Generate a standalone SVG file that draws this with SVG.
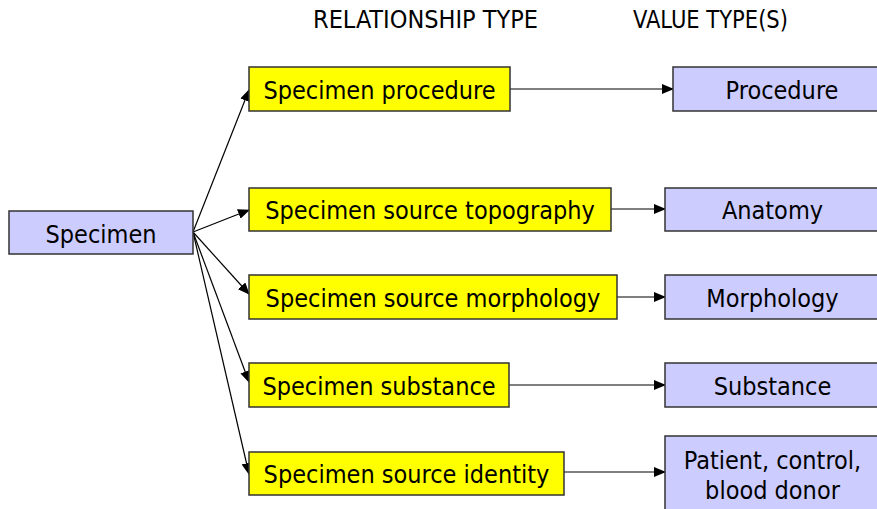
<svg xmlns="http://www.w3.org/2000/svg" width="877" height="509" viewBox="0 0 877 509">
<defs>
<style>
.t{font-family:"DejaVu Sans Condensed","DejaVu Sans",sans-serif;font-size:25px;fill:#000;text-anchor:middle}
.h{font-family:"DejaVu Sans Condensed","DejaVu Sans",sans-serif;font-size:25px;fill:#000}
.y{fill:#FFFF00;stroke:#333;stroke-width:1.5}
.b{fill:#CCCCFF;stroke:#333;stroke-width:1.5}
.c{stroke:#000;stroke-width:1.2;fill:none;marker-end:url(#ah)}
</style>
<marker id="ah" markerUnits="userSpaceOnUse" markerWidth="12" markerHeight="10" refX="11" refY="5" orient="auto">
<path d="M0,0 L12,5 L0,10 Z" fill="#000"/>
</marker>
</defs>
<rect width="877" height="509" fill="#fff"/>
<text class="h" x="313" y="28">RELATIONSHIP TYPE</text>
<text class="h" x="633" y="28" textLength="155" lengthAdjust="spacingAndGlyphs">VALUE TYPE(S)</text>
<g id="connectors">
<line class="c" x1="193" y1="232" x2="249" y2="90"/>
<line class="c" x1="193" y1="232" x2="249" y2="210"/>
<line class="c" x1="193" y1="232" x2="249" y2="294"/>
<line class="c" x1="193" y1="232" x2="249" y2="382"/>
<line class="c" x1="193" y1="232" x2="249" y2="474"/>
<line class="c" x1="510" y1="89" x2="673" y2="89"/>
<line class="c" x1="611" y1="209" x2="665" y2="209"/>
<line class="c" x1="617" y1="297" x2="665" y2="297"/>
<line class="c" x1="509" y1="385" x2="665" y2="385"/>
<line class="c" x1="564" y1="472" x2="665" y2="472"/>
</g>
<g id="specimen"><rect class="b" x="9" y="211" width="184" height="43"/><text class="t" x="101" y="243">Specimen</text></g>
<g id="rel-procedure"><rect class="y" x="249" y="67" width="261" height="44"/><text class="t" x="379.5" y="99">Specimen procedure</text></g>
<g id="rel-topography"><rect class="y" x="249" y="188" width="362" height="43"/><text class="t" x="430" y="219">Specimen source topography</text></g>
<g id="rel-morphology"><rect class="y" x="249" y="275" width="368" height="44"/><text class="t" x="433" y="307">Specimen source morphology</text></g>
<g id="rel-substance"><rect class="y" x="249" y="363" width="260" height="44"/><text class="t" x="379" y="395">Specimen substance</text></g>
<g id="rel-identity"><rect class="y" x="249" y="452" width="315" height="43"/><text class="t" x="406.5" y="483">Specimen source identity</text></g>
<g id="val-procedure"><rect class="b" x="673" y="67" width="220" height="44"/><text class="t" x="782" y="99">Procedure</text></g>
<g id="val-anatomy"><rect class="b" x="665" y="188" width="220" height="43"/><text class="t" x="772.5" y="219">Anatomy</text></g>
<g id="val-morphology"><rect class="b" x="665" y="275" width="220" height="44"/><text class="t" x="772.5" y="307">Morphology</text></g>
<g id="val-substance"><rect class="b" x="665" y="363" width="220" height="44"/><text class="t" x="772.5" y="395">Substance</text></g>
<g id="val-identity"><rect class="b" x="665" y="436" width="220" height="90"/><text class="t" x="772.5" y="469">Patient, control,</text><text class="t" x="772.5" y="499">blood donor</text></g>
</svg>
